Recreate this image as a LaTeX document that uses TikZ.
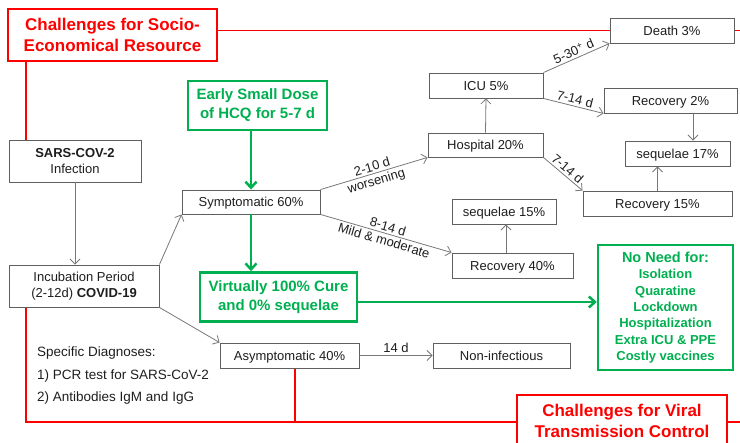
\documentclass[tikz,border=0pt]{standalone}
\usepackage{fontspec}
\setmainfont{Liberation Sans}
\usetikzlibrary{arrows.meta,backgrounds}
\definecolor{grn}{RGB}{0,176,80}
\definecolor{boxgray}{RGB}{95,95,95}
\definecolor{arrgray}{RGB}{120,120,120}
\definecolor{txt}{RGB}{30,30,30}
\begin{document}
\begin{tikzpicture}[x=1pt,y=-1pt,
  gbox/.style={draw=boxgray, line width=0.9pt, fill=white, inner sep=0pt, text=txt, font=\fontsize{13}{15.5}\selectfont, align=center},
  sbox/.style={gbox, text height=9.4pt, text depth=0pt},
  grbox/.style={draw=grn, line width=2.5pt, fill=white, inner sep=0pt, text=grn, font=\fontsize{15}{19}\selectfont\bfseries, align=center},
  rbox/.style={draw=red, line width=2.5pt, fill=white, inner sep=0pt, text=red, font=\fontsize{17}{20.5}\selectfont\bfseries, align=center},
  garr/.style={draw=arrgray, line width=0.8pt, -{Straight Barb[length=5pt,width=10pt]}},
  gnarr/.style={draw=grn, line width=2.5pt, -{Straight Barb[length=6pt,width=11pt]}},
  rline/.style={draw=red, line width=1.5pt},
  lab/.style={font=\fontsize{13}{15}\selectfont, text=txt, sloped, inner sep=2pt},
  plain/.style={font=\fontsize{13.5}{15}\selectfont, text=txt, anchor=west, inner sep=0pt}
]
\path[use as bounding box] (0,0) rectangle (740,443);
\clip (0,0) rectangle (740,443);

% red boxes
\node[rbox, minimum width=209pt, minimum height=52pt] (redA) at (112.5,35) {Challenges for Socio-\\Economical Resource};
\node[rbox, minimum width=210pt, minimum height=52pt] (redB) at (622,421) {Challenges for Viral\\Transmission Control};

% green boxes
\node[grbox, minimum width=139pt, minimum height=49pt] (hcq) at (257.5,105.5) {Early Small Dose\\of HCQ for 5-7 d};
\node[grbox, minimum width=157pt, minimum height=49pt] (virt) at (278.5,297) {Virtually 100\% Cure\\and 0\% sequelae};
\node[grbox, minimum width=135pt, minimum height=125pt, font=\fontsize{13}{16.3}\selectfont\bfseries] (noneed) at (665.5,307.5)
  {{\fontsize{14.5}{16.3}\selectfont No Need for:}\\Isolation\\Quaratine\\Lockdown\\Hospitalization\\Extra ICU \& PPE\\Costly vaccines};

% gray boxes
\node[gbox, minimum width=132pt, minimum height=42pt] (sars) at (75,161) {\textbf{SARS-COV-2}\\Infection};
\node[gbox, minimum width=150pt, minimum height=42pt] (incub) at (84,286) {Incubation Period\\(2-12d) \textbf{COVID-19}};
\node[sbox, minimum width=138pt, minimum height=24pt] (symp) at (251,202) {Symptomatic 60\%};
\node[sbox, minimum width=115pt, minimum height=24pt] (hosp) at (485.5,145) {Hospital 20\%};
\node[sbox, minimum width=114pt, minimum height=25pt] (icu) at (486,85.5) {ICU 5\%};
\node[sbox, minimum width=124pt, minimum height=25pt] (death) at (672,30.5) {Death 3\%};
\node[sbox, minimum width=133pt, minimum height=25pt] (rec2) at (670.5,100.5) {Recovery 2\%};
\node[sbox, minimum width=105pt, minimum height=25pt] (seq17) at (677.5,153.5) {sequelae 17\%};
\node[sbox, minimum width=149pt, minimum height=25pt] (rec15) at (657.5,203.5) {Recovery 15\%};
\node[sbox, minimum width=104pt, minimum height=25pt] (seq15) at (504,211.5) {sequelae 15\%};
\node[sbox, minimum width=121pt, minimum height=25pt] (rec40) at (512.5,265.5) {Recovery 40\%};
\node[sbox, minimum width=139pt, minimum height=25pt] (asym) at (289.5,355.5) {Asymptomatic 40\%};
\node[sbox, minimum width=137pt, minimum height=25pt] (noninf) at (501.5,355.5) {Non-infectious};

% diagnoses text
\node[plain] (diag1) at (37,353) {Specific Diagnoses:};
\node[plain] (diag2) at (37,376) {1) PCR test for SARS-CoV-2};
\node[plain] (diag3) at (37,398) {2) Antibodies IgM and IgG};

% helper coordinates
\coordinate (rx) at (26,0);
\coordinate (ax) at (295,0);
\coordinate (rb) at (0,422);
\coordinate (rend) at (740,422);
\coordinate (tend) at (740,30.5);
\coordinate (s17x) at (693,0);
\coordinate (s15x) at (506,0);
\coordinate (ga) at (0,302);

% red lines behind
\begin{pgfonlayer}{background}
\draw[rline] (redA.east |- death.west) -- (tend);
\draw[rline] (redA.south -| rx) -- (sars.north -| rx);
\draw[rline] (incub.south -| rx) -- (rx |- rb) -- (rend);
\draw[rline] (asym.south -| ax) -- (ax |- rb);
\end{pgfonlayer}

% gray arrows
\draw[garr] (sars.south) -- (sars.south |- incub.north);
\draw[garr] (incub.north east) -- (symp.south west);
\draw[garr] (incub.south east) -- (asym.north west);
\draw[garr] (symp.north east) -- node[lab, above] {2-10 d} node[lab, below] {worsening} (hosp.south west);
\draw[garr] (symp.south east) -- node[lab, above] {8-14 d} node[lab, below] {Mild \& moderate} (rec40.north west);
\draw[garr] (hosp.north) -- (icu.south);
\draw[garr] (icu.north east) -- node[lab, above] {5-30\textsuperscript{+} d} (death.south west);
\draw[garr] (icu.south east) -- node[lab, above] {7-14 d} (rec2.south west);
\draw[garr] (rec2.south -| s17x) -- (seq17.north -| s17x);
\draw[garr] (hosp.south east) -- node[lab, above] {7-14 d} (rec15.north west);
\draw[garr] (rec15.north) -- (rec15.north |- seq17.south);
\draw[garr] (rec40.north -| s15x) -- (seq15.south -| s15x);
\draw[garr] (asym.east) -- node[lab, above] {14 d} (noninf.west);

% green arrows
\draw[gnarr] (hcq.south -| symp.north) -- (symp.north);
\draw[gnarr] (symp.south) -- (symp.south |- virt.north);
\draw[gnarr] (virt.east |- ga) -- (noneed.west |- ga);
\end{tikzpicture}
\end{document}
